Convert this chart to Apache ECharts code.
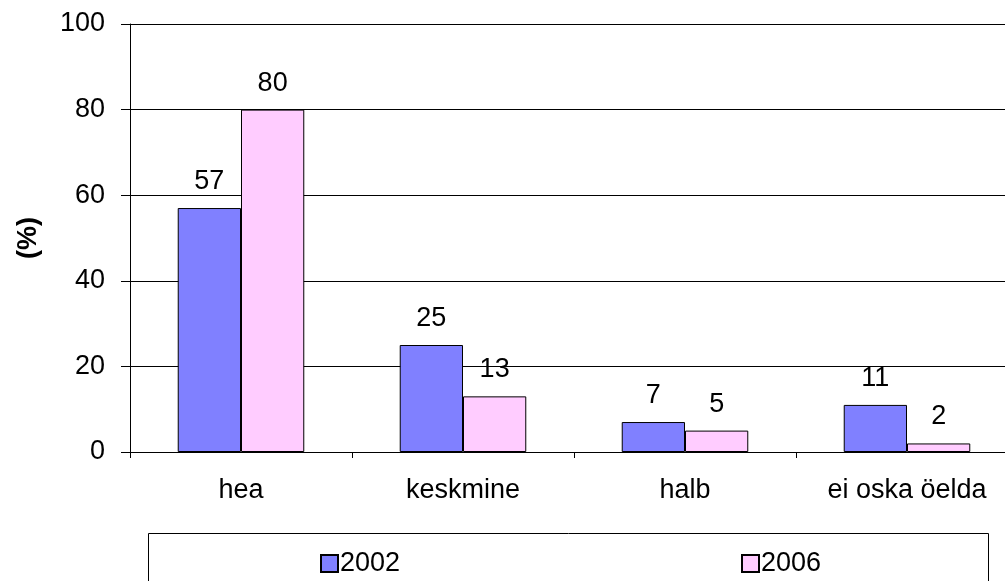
<!DOCTYPE html>
<html>
<head>
<meta charset="utf-8">
<script src="https://cdn.jsdelivr.net/npm/echarts@6/dist/echarts.min.js"></script>
<style>
html,body{margin:0;padding:0;background:#fff;}
#chart{width:1005px;height:581px;}
</style>
</head>
<body>
<div id="chart"></div>
<script>
const categories = ['hea', 'keskmine', 'halb', 'ei oska öelda'];
const series2002 = [57, 25, 7, 11];
const series2006 = [80, 13, 5, 2];
const seriesNames = ['2002', '2006'];
const yTicks = [0, 20, 40, 60, 80, 100];

const FONT = '"Liberation Sans", Arial, sans-serif';
const FS = 27;

const chart = echarts.init(document.getElementById('chart'), null, {renderer: 'canvas'});
chart.setOption({
  animation: false,
  backgroundColor: '#fff',
  textStyle: {fontFamily: FONT, color: '#000'},
  grid: {left: 130, top: 24, height: 428, width: 888, containLabel: false, outerBoundsMode: 'none'},
  legend: [
    {data: [seriesNames[0]], left: 315, top: 545, itemWidth: 17, itemHeight: 17, itemGap: 0,
     icon: 'rect', textStyle: {fontSize: FS, fontFamily: FONT, color: '#000', padding: [0,0,0,-3]}},
    {data: [seriesNames[1]], left: 736, top: 545, itemWidth: 17, itemHeight: 17, itemGap: 0,
     icon: 'rect', textStyle: {fontSize: FS, fontFamily: FONT, color: '#000', padding: [0,0,0,-3]}}
  ],
  graphic: [{
    type: 'rect', shape: {x: 148.5, y: 533.5, width: 840, height: 80},
    style: {fill: 'none', stroke: '#000', lineWidth: 1}, silent: true, z: -1
  }],
  xAxis: {
    type: 'category', data: categories,
    axisLine: {lineStyle: {color: '#000', width: 1}},
    axisTick: {show: true, length: 6, lineStyle: {color: '#000'}},
    axisLabel: {fontSize: FS, fontFamily: FONT, color: '#000', margin: 25}
  },
  yAxis: {
    type: 'value', min: yTicks[0], max: yTicks[yTicks.length-1], interval: 20,
    name: '(%)', nameLocation: 'middle', nameGap: 88, nameRotate: 90,
    nameTextStyle: {fontSize: FS, fontWeight: 'bold', fontFamily: FONT, color: '#000'},
    axisLine: {show: true, lineStyle: {color: '#000'}},
    axisTick: {show: true, length: 9, lineStyle: {color: '#000'}},
    axisLabel: {fontSize: FS, fontFamily: FONT, color: '#000', margin: 25},
    splitLine: {show: true, lineStyle: {color: '#000', width: 1}}
  },
  series: [
    {name: seriesNames[0], type: 'bar', data: series2002, barGap: '0%', barCategoryGap: '43%',
     itemStyle: {color: '#8080FF', borderColor: '#000', borderWidth: 1},
     label: {show: true, position: 'top', distance: 13, fontSize: FS, fontFamily: FONT, color: '#000'}},
    {name: seriesNames[1], type: 'bar', data: series2006, barGap: '0%', barCategoryGap: '43%',
     itemStyle: {color: '#FFCCFF', borderColor: '#000', borderWidth: 1},
     label: {show: true, position: 'top', distance: 13, fontSize: FS, fontFamily: FONT, color: '#000'}}
  ]
});
</script>
</body>
</html>
